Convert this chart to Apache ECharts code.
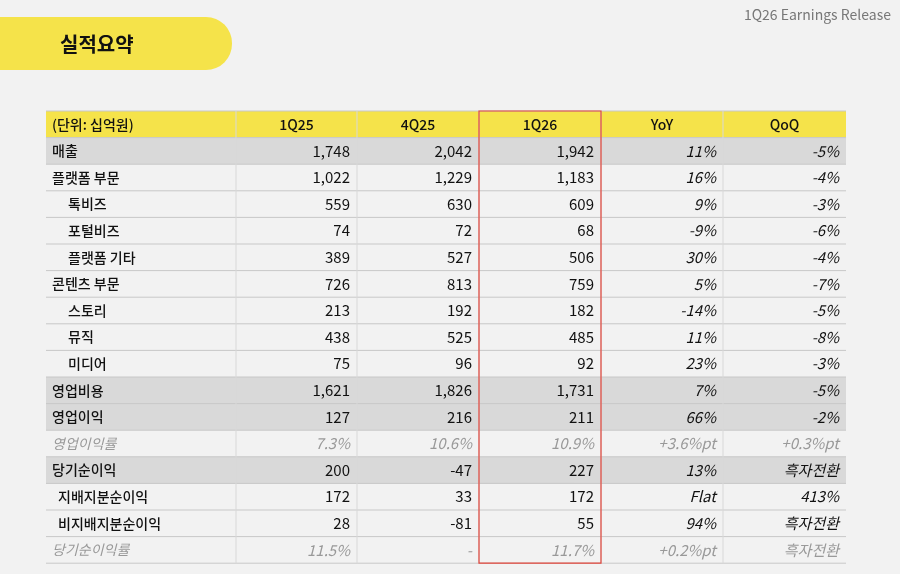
<!DOCTYPE html>
<html><head><meta charset="utf-8">
<script src="https://cdn.jsdelivr.net/npm/echarts@6/dist/echarts.min.js"></script>
<style>html,body{margin:0;background:#f2f2f2}#main{width:900px;height:574px}</style>
</head><body><div id="main"></div>
<script>
var columns = ['(단위: 십억원)', '1Q25', '4Q25', '1Q26', 'YoY', 'QoQ'];
var rowLabels = ['매출','플랫폼 부문','톡비즈','포털비즈','플랫폼 기타','콘텐츠 부문','스토리','뮤직','미디어','영업비용','영업이익','영업이익률','당기순이익','지배지분순이익','비지배지분순이익','당기순이익률'];
var q1_25 = ['1,748','1,022','559','74','389','726','213','438','75','1,621','127','7.3%','200','172','28','11.5%'];
var q4_25 = ['2,042','1,229','630','72','527','813','192','525','96','1,826','216','10.6%','-47','33','-81','-'];
var q1_26 = ['1,942','1,183','609','68','506','759','182','485','92','1,731','211','10.9%','227','172','55','11.7%'];
var yoy = ['11%','16%','9%','-9%','30%','5%','-14%','11%','23%','7%','66%','+3.6%pt','13%','Flat','94%','+0.2%pt'];
var qoq = ['-5%','-4%','-3%','-6%','-4%','-7%','-5%','-8%','-3%','-5%','-2%','+0.3%pt','흑자전환','413%','흑자전환','흑자전환'];
// row kinds: h = highlighted total, s = sub (indented), r = ratio (grey italic), n = normal, m = minor indent
var rowKind = ['h','n','s','s','s','n','s','s','s','h','h','r','h','m','m','r'];

var font = '"Noto Sans CJK KR", "Noto Sans", sans-serif';
var colX = [46, 236, 357, 479, 601, 723, 846];
var top0 = 111, rh = 26.6;
var g = [];

g.push({type:'rect', shape:{x:-30,y:17,width:262,height:53,r:26}, style:{fill:'#f5e34a'}});
g.push({type:'text', x:60, y:44, style:{text:'실적요약', font:'bold 20px '+font, fill:'#111', verticalAlign:'middle'}});
g.push({type:'text', x:891, y:15, style:{text:'1Q26 Earnings Release', font:'14px '+font, fill:'#777', align:'right', verticalAlign:'middle'}});

g.push({type:'rect', shape:{x:colX[0],y:top0,width:800,height:rh}, style:{fill:'#f5e34a'}});
columns.forEach(function(c,i){
  g.push({type:'text', x:i===0?colX[0]+6:(colX[i]+colX[i+1])/2, y:top0+rh/2,
    style:{text:c, font:'500 14px '+font, fill:'#111', align:i===0?'left':'center', verticalAlign:'middle'}});
});

var cols = [q1_25, q4_25, q1_26, yoy, qoq];
rowLabels.forEach(function(lab,r){
  var y = top0 + rh*(r+1), k = rowKind[r];
  if (k==='h') g.push({type:'rect', shape:{x:colX[0],y:y,width:800,height:rh}, style:{fill:'#d9d9d9'}});
  g.push({type:'line', shape:{x1:colX[0],y1:y,x2:846,y2:y}, style:{stroke:'#c8c8c8',lineWidth:1}});
  var ratio = k==='r';
  var color = ratio ? '#999' : '#111';
  var indent = k==='s' ? 22 : (k==='m' ? 12 : 6);
  g.push({type:'text', x:colX[0]+indent, y:y+rh/2,
    style:{text:lab, font:(ratio?'italic ':'500 ')+'14px '+font, fill:color, verticalAlign:'middle'}});
  cols.forEach(function(arr,i){
    var it = i>=3 || ratio;
    g.push({type:'text', x:colX[i+2]-7, y:y+rh/2,
      style:{text:arr[r], font:(it?'italic ':'')+'15px '+font, fill:color, align:'right', verticalAlign:'middle'}});
  });
});
var bottom = top0 + rh*(rowLabels.length+1);
g.push({type:'line', shape:{x1:colX[0],y1:bottom,x2:846,y2:bottom}, style:{stroke:'#c8c8c8',lineWidth:1}});
g.push({type:'line', shape:{x1:colX[0],y1:top0,x2:846,y2:top0}, style:{stroke:'#c8c8c8',lineWidth:1}});
for (var i=1;i<colX.length-1;i++){
  g.push({type:'line', shape:{x1:colX[i],y1:top0,x2:colX[i],y2:bottom}, style:{stroke:'#d8d8d8',lineWidth:1}});
}
g.push({type:'rect', shape:{x:colX[3],y:top0,width:colX[4]-colX[3],height:bottom-top0}, style:{fill:null,stroke:'#e0443a',lineWidth:1.2}, z:10});

var chart = echarts.init(document.getElementById('main'));
chart.setOption({backgroundColor:'#f2f2f2', graphic:{elements:g}});
</script></body></html>
